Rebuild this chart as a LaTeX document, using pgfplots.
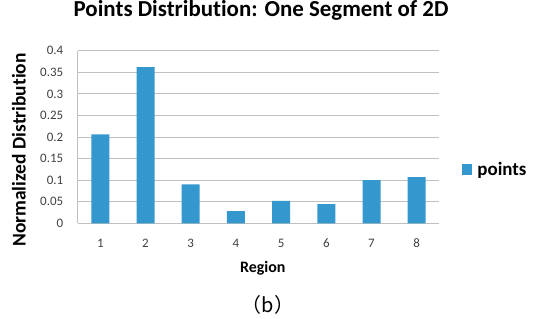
\documentclass[border=0pt]{standalone}
\usepackage{pgfplots}
\pgfplotsset{compat=1.18}
\usepackage{fontspec}
\setmainfont{Carlito}[RawFeature={-liga;-dlig}]
\newfontfamily\cjk{Noto Sans CJK JP}
\definecolor{barblue}{RGB}{52,152,206}
\definecolor{gridgray}{RGB}{192,192,192}
\begin{document}
\begin{tikzpicture}[x=1bp,y=1bp]
\useasboundingbox (0,0) rectangle (533,318);
\begin{axis}[
  at={(77.7bp,94.7bp)}, anchor=south west,
  scale only axis, width=361.6bp, height=172.6bp,
  xmin=0.5, xmax=8.5, ymin=0, ymax=0.4,
  axis line style={draw=none},
  major tick length=0pt,
  xtick={1,...,8},
  ytick={0,0.05,0.1,0.15,0.2,0.25,0.3,0.35,0.4},
  yticklabels={0,0.05,0.1,0.15,0.2,0.25,0.3,0.35,0.4},
  xticklabels={1,2,3,4,5,6,7,8},
  ymajorgrids, major grid style={gridgray, line width=0.8pt},
  extra x ticks={0.5}, extra x tick labels={},
  extra x tick style={grid=major, major grid style={gridgray, line width=0.8pt}},
  tick label style={font=\fontsize{13}{15}\selectfont, text=black!75},
  yticklabel style={xshift=-11bp},
  xticklabel style={yshift=-12bp},
  title={Points Distribution: One Segment of 2D},
  title style={font=\fontsize{23}{27}\selectfont\bfseries, at={(axis description cs:0.507,1.201)}, anchor=center},
  xlabel={Region},
  xlabel style={font=\fontsize{16}{19}\selectfont\bfseries, at={(axis description cs:0.512,-0.262)}, anchor=center},
  ylabel={Normalized Distribution},
  ylabel style={font=\fontsize{19.5}{23}\selectfont\bfseries, at={(axis description cs:-0.163,0.425)}, anchor=center, rotate=0},
  legend style={draw=none, fill=none, at={(axis description cs:1.062,0.312)}, anchor=west, inner sep=0pt, font=\fontsize{19}{22}\selectfont\bfseries, legend cell align=left, /tikz/every even column/.style={column sep=4bp}},
  legend image code/.code={\fill[barblue] (0bp,-5.3bp) rectangle (10.5bp,5.3bp);},
]
\addplot[ybar, bar width=18bp, fill=barblue, draw=none] coordinates {
  (1,0.206) (2,0.362) (3,0.090) (4,0.0285) (5,0.0517) (6,0.0447) (7,0.100) (8,0.107)
};
\addlegendentry{\hspace{3bp}points}
\end{axis}
\node at (268,13) {\cjk\fontsize{20}{22}\selectfont （b）};
\end{tikzpicture}
\end{document}
